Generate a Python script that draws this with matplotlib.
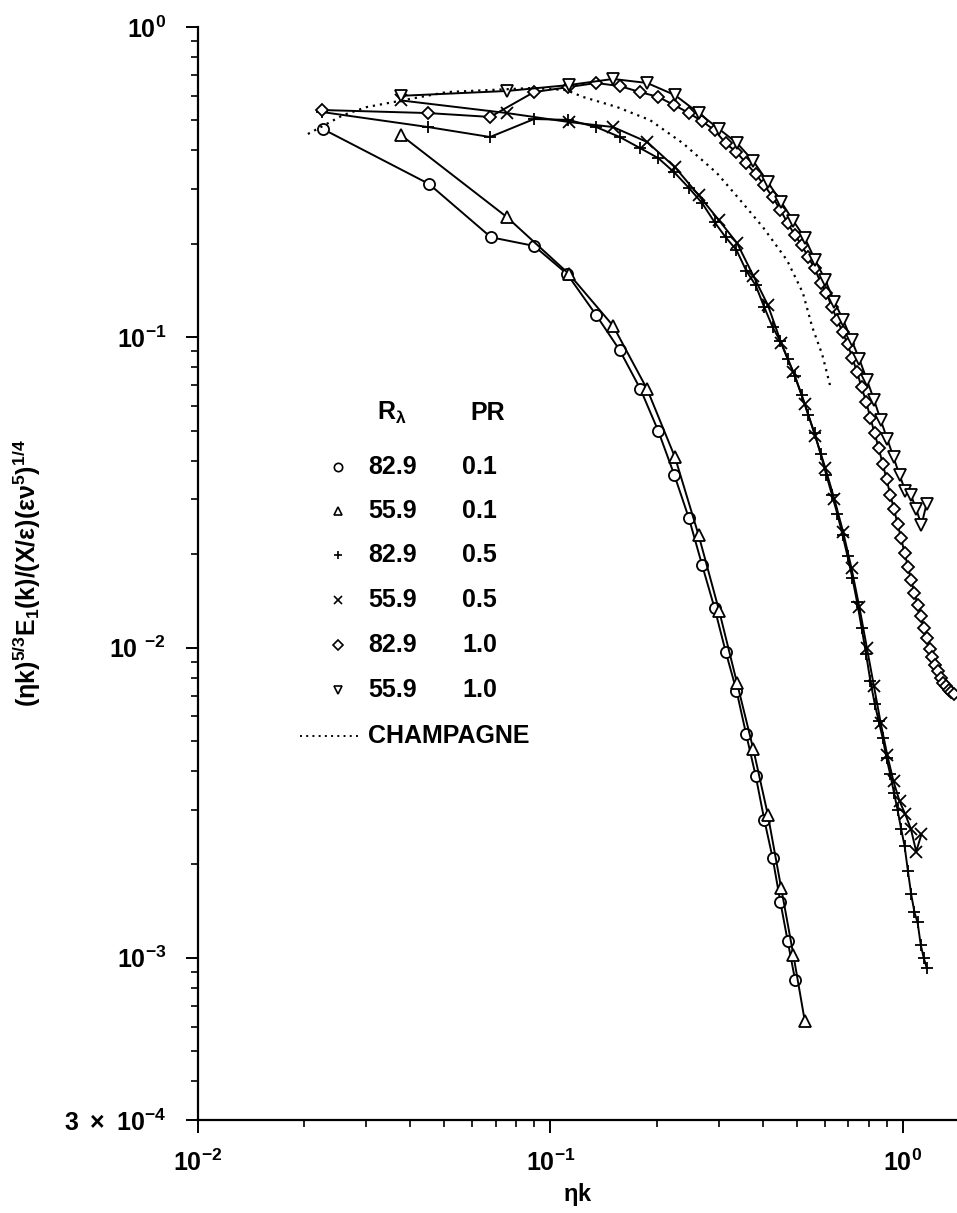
import matplotlib
matplotlib.use("Agg")
import matplotlib.pyplot as plt
from matplotlib.ticker import FixedLocator, NullFormatter, LogLocator

plt.rcParams['font.family'] = ['Liberation Sans', 'DejaVu Sans']
plt.rcParams['font.weight'] = 'bold'
plt.rcParams['mathtext.fontset'] = 'custom'
plt.rcParams['mathtext.rm'] = 'Liberation Sans:bold'
plt.rcParams['mathtext.bf'] = 'Liberation Sans:bold'
plt.rcParams['mathtext.it'] = 'Liberation Sans:italic'
plt.rcParams['mathtext.default'] = 'rm'

# R_lambda = 82.9, PR = 0.1 (circles)
circ_x = [0.0226, 0.0452, 0.0678, 0.0898, 0.1114, 0.1347, 0.157, 0.180, 0.202, 0.2245,
          0.247, 0.269, 0.292, 0.314, 0.337, 0.359, 0.382, 0.404, 0.427, 0.449, 0.471, 0.494]
circ_y = [0.469, 0.312, 0.210, 0.197, 0.160, 0.118, 0.091, 0.068, 0.050, 0.036,
          0.0261, 0.0185, 0.0134, 0.0097, 0.00726, 0.00525, 0.00386, 0.00279, 0.00209,
          0.00151, 0.00113, 0.00085]

# R_lambda = 55.9, PR = 0.1 (triangles)
tri_x = [0.0376, 0.0752, 0.1128, 0.1504, 0.188, 0.2256, 0.2632, 0.3008, 0.3384, 0.376,
         0.4136, 0.4512, 0.4888, 0.5264]
tri_y = [0.449, 0.244, 0.160, 0.109, 0.068, 0.041, 0.0230, 0.01315, 0.00766, 0.00471,
         0.00289, 0.00168, 0.00102, 0.000626]

# R_lambda = 82.9, PR = 0.5 (plus)
plus_x = [0.0225, 0.0449, 0.0674, 0.0898, 0.1123, 0.1347, 0.1572, 0.1796, 0.2021, 0.2245,
          0.247, 0.269, 0.292, 0.314, 0.337, 0.359, 0.382, 0.404, 0.427, 0.449,
          0.471, 0.494, 0.516, 0.539, 0.561, 0.584, 0.606, 0.629, 0.651, 0.674,
          0.696, 0.718, 0.741, 0.763, 0.786, 0.808, 0.831, 0.853, 0.876, 0.898,
          0.920, 0.943, 0.965, 0.988, 1.010, 1.033, 1.055, 1.078, 1.100, 1.123,
          1.145, 1.167]
plus_y = [0.532, 0.476, 0.442, 0.505, 0.502, 0.476, 0.442, 0.407, 0.378, 0.340,
          0.303, 0.271, 0.235, 0.210, 0.191, 0.164, 0.147, 0.125, 0.1077, 0.097,
          0.085, 0.075, 0.065, 0.056, 0.049, 0.042, 0.036, 0.031, 0.027, 0.023,
          0.0197, 0.0168, 0.0140, 0.0116, 0.0095, 0.0078, 0.0066, 0.0058, 0.0051, 0.0044,
          0.0039, 0.0034, 0.0030, 0.0026, 0.0023, 0.0019, 0.0016, 0.0014, 0.0013, 0.0011,
          0.00100, 0.00093]

# R_lambda = 55.9, PR = 0.5 (cross)
cross_x = [0.0376, 0.0752, 0.1128, 0.1504, 0.188, 0.2256, 0.2632, 0.3008, 0.3384, 0.376,
           0.4136, 0.4512, 0.4888, 0.5264, 0.564, 0.6016, 0.6392, 0.6768, 0.7144, 0.752,
           0.7896, 0.8272, 0.8648, 0.9024, 0.94, 0.9776, 1.015, 1.053, 1.090, 1.128]
cross_y = [0.58, 0.528, 0.494, 0.476, 0.426, 0.353, 0.287, 0.238, 0.201, 0.158,
           0.127, 0.096, 0.077, 0.061, 0.048, 0.038, 0.030, 0.0235, 0.0180, 0.0135,
           0.0100, 0.0075, 0.0057, 0.0045, 0.0037, 0.0032, 0.0029, 0.0026, 0.0022, 0.0025]

# R_lambda = 82.9, PR = 1.0 (diamonds)
diam_x = [0.0225, 0.0449, 0.0674, 0.0898, 0.1123, 0.1347, 0.1572, 0.1796, 0.2021, 0.2245,
          0.247, 0.269, 0.292, 0.314, 0.337, 0.359, 0.382, 0.404, 0.427, 0.449,
          0.471, 0.494, 0.516, 0.539, 0.561, 0.584, 0.606, 0.629, 0.651, 0.674,
          0.696, 0.718, 0.741, 0.763, 0.786, 0.808, 0.831, 0.853, 0.876, 0.898,
          0.920, 0.943, 0.965, 0.988, 1.010, 1.033, 1.055, 1.078, 1.100, 1.123,
          1.145, 1.167, 1.190, 1.212, 1.235, 1.257, 1.280, 1.302, 1.325, 1.347,
          1.370, 1.392]
diam_y = [0.540, 0.528, 0.513, 0.617, 0.640, 0.660, 0.645, 0.617, 0.595, 0.560,
          0.528, 0.497, 0.465, 0.422, 0.395, 0.364, 0.336, 0.309, 0.283, 0.257,
          0.233, 0.213, 0.198, 0.181, 0.167, 0.150, 0.139, 0.125, 0.1135, 0.104,
          0.095, 0.086, 0.077, 0.069, 0.062, 0.055, 0.049, 0.044, 0.039, 0.035,
          0.031, 0.028, 0.025, 0.0225, 0.0202, 0.0182, 0.0165, 0.0150, 0.0137, 0.0126,
          0.0116, 0.0107, 0.0099, 0.0093, 0.0088, 0.0084, 0.0080, 0.0077, 0.0075, 0.0073,
          0.0072, 0.0071]

# R_lambda = 55.9, PR = 1.0 (inverted triangles)
itri_x = [0.0376, 0.0752, 0.1128, 0.1504, 0.188, 0.2256, 0.2632, 0.3008, 0.3384, 0.376,
          0.4136, 0.4512, 0.4888, 0.5264, 0.564, 0.6016, 0.6392, 0.6768, 0.7144, 0.752,
          0.7896, 0.8272, 0.8648, 0.9024, 0.94, 0.9776, 1.015, 1.053, 1.090, 1.128, 1.166]
itri_y = [0.60, 0.622, 0.650, 0.680, 0.660, 0.603, 0.528, 0.469, 0.422, 0.370,
          0.316, 0.273, 0.237, 0.209, 0.177, 0.153, 0.130, 0.1135, 0.098, 0.085,
          0.073, 0.063, 0.054, 0.047, 0.041, 0.036, 0.032, 0.031, 0.028, 0.0248, 0.0290]

# Champagne (dotted)
champ_x = [0.0205, 0.0258, 0.0301, 0.0508, 0.0892, 0.111, 0.1237, 0.1545, 0.1916, 0.2375,
           0.2967, 0.345, 0.401, 0.469, 0.520, 0.553, 0.590, 0.625]
champ_y = [0.452, 0.520, 0.552, 0.617, 0.636, 0.626, 0.595, 0.552, 0.501, 0.422,
           0.338, 0.277, 0.226, 0.177, 0.139, 0.1077, 0.088, 0.068]

series = [
    (circ_x, circ_y, 'o', '82.9', '0.1'),
    (tri_x, tri_y, '^', '55.9', '0.1'),
    (plus_x, plus_y, '+', '82.9', '0.5'),
    (cross_x, cross_y, 'x', '55.9', '0.5'),
    (diam_x, diam_y, 'D', '82.9', '1.0'),
    (itri_x, itri_y, 'v', '55.9', '1.0'),
]

W, H = 957, 1213
fig = plt.figure(figsize=(W / 100, H / 100), dpi=100)
ax = fig.add_axes([198 / W, 1 - 1120 / H, (W - 198) / W, (1120 - 27) / H])

for xs, ys, m, r, p in series:
    ms = 6 if m == 'D' else 8
    if m in ('+', 'x'):
        ms = 9
    ax.plot(xs, ys, color='black', lw=1.4, marker=m, ms=ms, mfc='white',
            mec='black', mew=1.3)
ax.plot(champ_x, champ_y, color='black', lw=1.6, ls=(0, (1, 2.2)))

ax.set_xscale('log')
ax.set_yscale('log')
ax.set_xlim(0.01, 1.423)
ax.set_ylim(3e-4, 1.0)

for s in ('top', 'right'):
    ax.spines[s].set_visible(False)
for s in ('left', 'bottom'):
    ax.spines[s].set_linewidth(1.6)

ax.xaxis.set_major_locator(FixedLocator([0.01, 0.1, 1.0]))
ax.set_xticklabels([r'$10^{-2}$', r'$10^{-1}$', r'$10^{0}$'])
ax.xaxis.set_minor_locator(LogLocator(base=10, subs=range(2, 10)))
ax.xaxis.set_minor_formatter(NullFormatter())

ax.yaxis.set_major_locator(FixedLocator([3e-4, 1e-3, 1e-2, 1e-1, 1.0]))
ax.set_yticklabels([r'$3\ \times\ 10^{-4}$', r'$10^{-3}$', r'$10\ ^{-2}$', r'$10^{-1}$', r'$10^{0}$'])
ax.yaxis.set_minor_locator(LogLocator(base=10, subs=range(2, 10)))
ax.yaxis.set_minor_formatter(NullFormatter())

ax.tick_params(which='major', direction='out', length=9, width=1.4, labelsize=18, pad=14)
ax.tick_params(which='minor', direction='out', length=5, width=1.2)
ax.tick_params(axis='x', which='major', pad=12)

ax.set_xlabel(r'$\eta$k', fontsize=17, fontweight='bold', labelpad=4)
ax.set_ylabel(r'$(\eta k)^{5/3}E_1(k)/(X/\epsilon)(\epsilon\nu^5)^{1/4}$', fontsize=18,
              labelpad=15)

# legend drawn as a small table
def fx(px):
    return px / W

def fy(py):
    return 1 - py / H

fig.text(fx(377), fy(413), r'$R_\lambda$', fontsize=18, va='center', ha='left')
fig.text(fx(470), fy(413), 'PR', fontsize=18, va='center', ha='left', fontweight='bold')
rows_y = [467, 511, 555, 600, 645, 690]
for (xs, ys, m, r, p), ry in zip(series, rows_y):
    lm = 5 if m == 'D' else 6
    ax.plot([fx(338)], [fy(ry)], transform=fig.transFigure, clip_on=False,
            marker=m, ms=lm, mfc='white', mec='black', mew=1.2, color='black', ls='none')
    fig.text(fx(368), fy(ry), r, fontsize=18, va='center', ha='left', fontweight='bold')
    fig.text(fx(462), fy(ry), p, fontsize=18, va='center', ha='left', fontweight='bold')
ax.plot([fx(300), fx(360)], [fy(736), fy(736)], transform=fig.transFigure, clip_on=False,
        color='black', lw=1.4, ls=(0, (1, 2.2)))
fig.text(fx(368), fy(736), 'CHAMPAGNE', fontsize=18, va='center', ha='left', fontweight='bold')

fig.savefig('out.png', dpi=100)
